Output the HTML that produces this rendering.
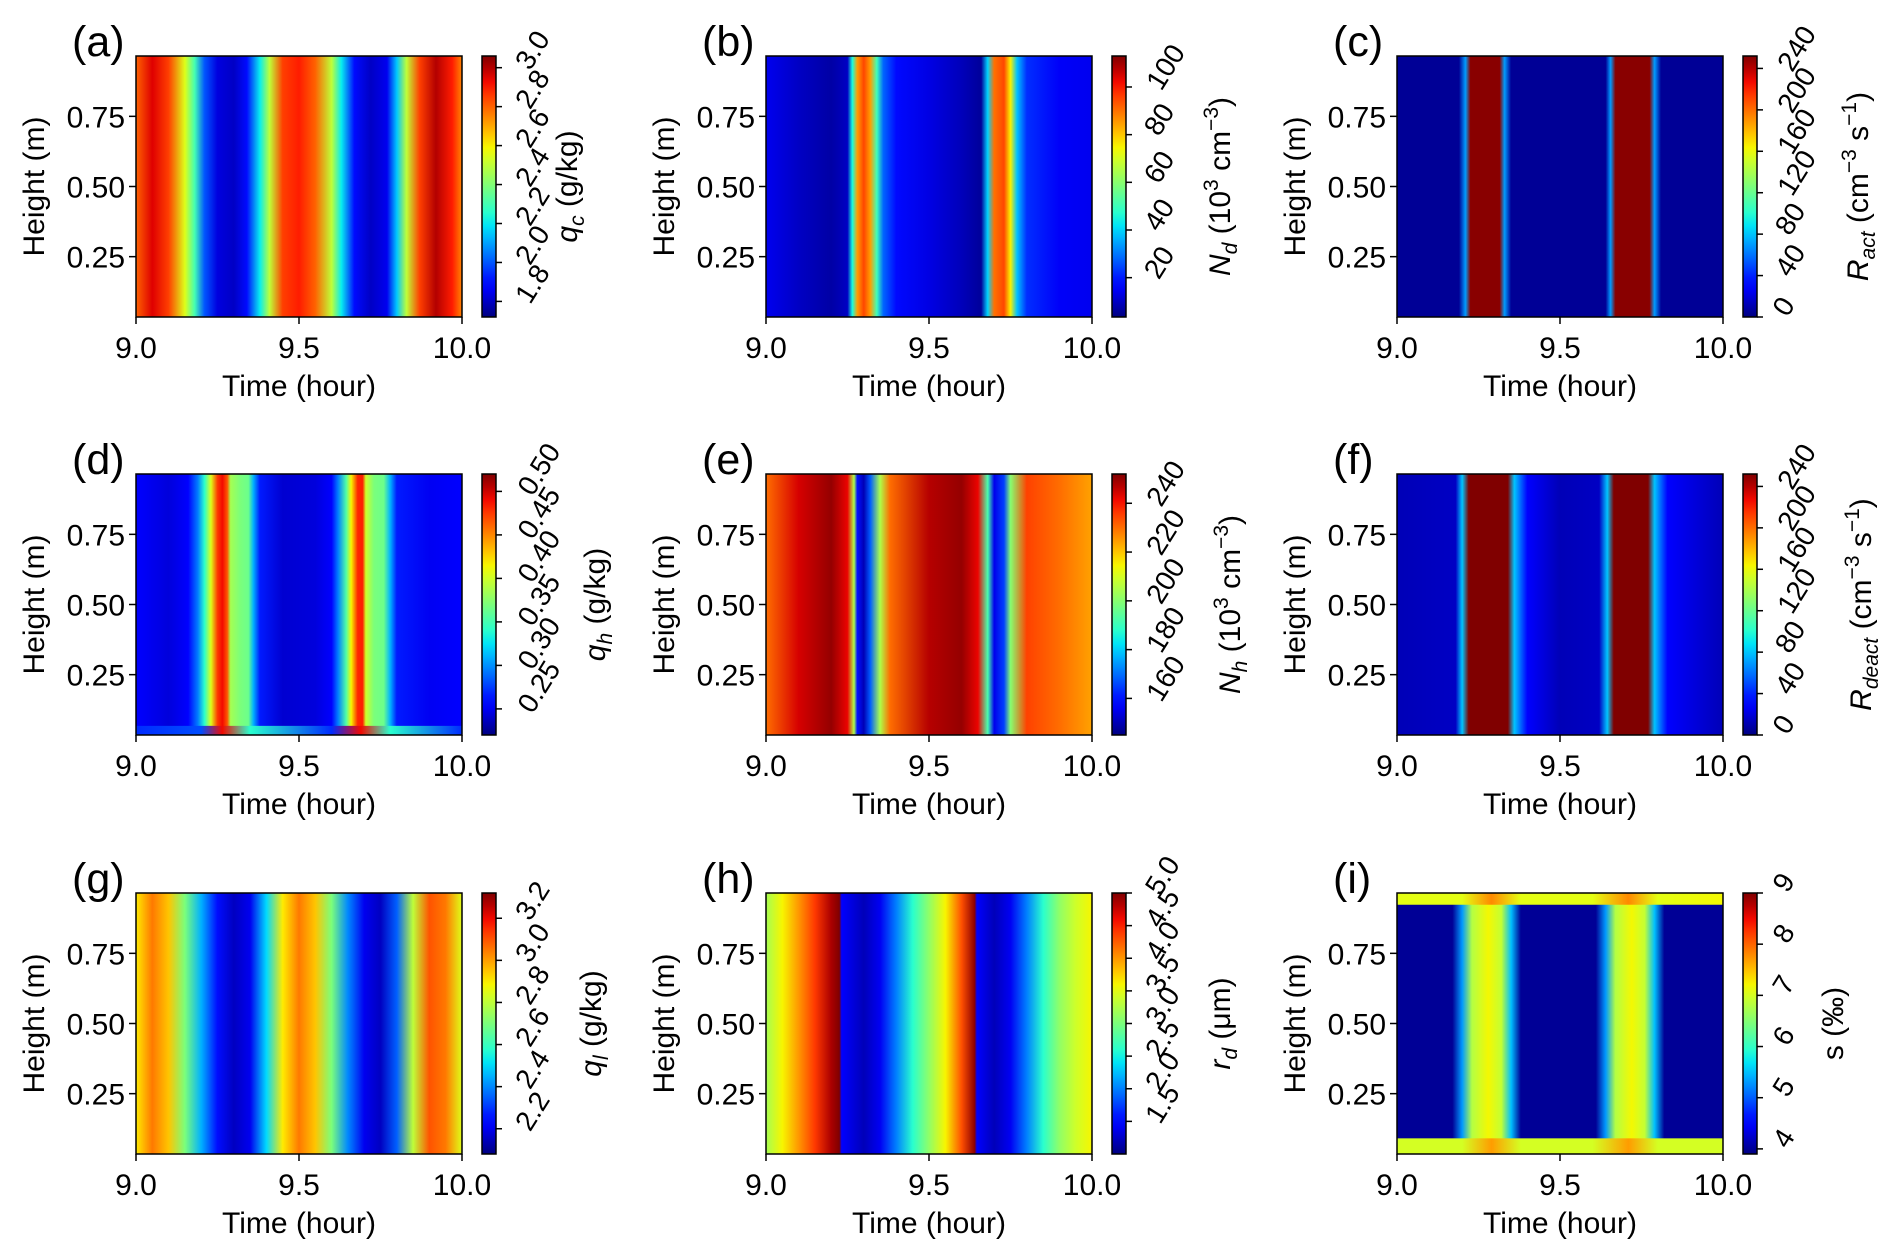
<!DOCTYPE html>
<html><head><meta charset="utf-8">
<style>
html,body{margin:0;padding:0;background:#fff;}
svg{display:block;font-family:"Liberation Sans",Arial,sans-serif;}
</style></head>
<body>
<svg id="fig" width="1892" height="1257" viewBox="0 0 1892 1257" xmlns="http://www.w3.org/2000/svg">
<defs id="defs"></defs>
</svg>
<script>
// ---- data (time hours, values in physical units) ----
const timesA = [9.0,9.05,9.1,9.15,9.18,9.21,9.25,9.3,9.34,9.38,9.41,9.45,9.5,9.55,9.6,9.63,9.67,9.72,9.77,9.8,9.83,9.87,9.92,9.97,10.0];
const valsA  = [2.8,2.95,2.85,2.55,2.3,2.0,1.83,1.8,1.9,2.2,2.5,2.85,2.9,2.8,2.5,2.2,1.9,1.8,1.85,2.15,2.5,2.85,3.0,2.9,2.75];
const timesB = [9.0,9.1,9.2,9.25,9.265,9.28,9.3,9.32,9.34,9.36,9.4,9.5,9.6,9.66,9.68,9.7,9.73,9.75,9.77,9.8,9.9,10.0];
const valsB  = [14,10,7,10,45,85,95,85,50,28,18,13,9,6,40,90,95,75,38,22,15,14];
const timesC = [9.0,9.19,9.21,9.225,9.315,9.33,9.35,9.64,9.655,9.67,9.775,9.79,9.81,10.0];
const valsC  = [5,5,70,250,250,70,5,5,70,250,250,70,5,5];
const timesD = [9.0,9.1,9.16,9.19,9.21,9.23,9.25,9.265,9.28,9.29,9.32,9.345,9.36,9.38,9.45,9.55,9.6,9.62,9.645,9.66,9.68,9.695,9.705,9.73,9.76,9.78,9.8,9.9,10.0];
const valsD  = [0.256,0.244,0.256,0.295,0.34,0.406,0.475,0.49,0.466,0.385,0.37,0.364,0.31,0.265,0.241,0.244,0.256,0.295,0.355,0.415,0.481,0.484,0.40,0.37,0.364,0.31,0.265,0.25,0.256];
const timesE = [9.0,9.1,9.2,9.25,9.27,9.28,9.3,9.32,9.35,9.38,9.5,9.6,9.65,9.68,9.7,9.73,9.75,9.8,9.9,10.0];
const valsE  = [230,244,250,242,205,160,150,168,205,230,247,250,242,192,155,165,200,235,230,224];
const timesF = [9.0,9.18,9.2,9.22,9.34,9.36,9.4,9.5,9.62,9.645,9.665,9.77,9.79,9.83,10.0];
const valsF  = [12,15,80,252,252,80,30,12,15,80,252,252,80,30,12];
const timesG = [9.0,9.05,9.1,9.15,9.2,9.25,9.3,9.35,9.4,9.45,9.5,9.55,9.6,9.65,9.7,9.75,9.8,9.85,9.9,9.95,10.0];
const valsG  = [2.9,3.05,2.95,2.7,2.45,2.25,2.15,2.2,2.5,2.9,3.05,2.95,2.7,2.4,2.2,2.15,2.35,2.8,3.1,3.05,2.85];
const timesH = [9.0,9.05,9.1,9.15,9.2,9.225,9.232,9.3,9.35,9.4,9.45,9.5,9.55,9.6,9.64,9.647,9.7,9.75,9.8,9.85,9.9,9.95,10.0];
const valsH  = [3.2,3.6,4.0,4.4,4.85,5.0,1.5,1.2,1.4,2.0,2.6,3.1,3.6,4.3,4.95,1.5,1.2,1.4,2.0,2.6,3.1,3.4,3.6];
const timesI = [9.0,9.17,9.2,9.23,9.28,9.32,9.35,9.38,9.61,9.64,9.67,9.72,9.76,9.79,9.82,10.0];
const valsI  = [4.0,4.0,5.3,6.8,7.2,6.9,5.5,4.0,4.0,5.3,6.8,7.2,6.9,5.5,4.0,4.0];
const topTimesI = [9.0,9.2,9.29,9.38,9.6,9.71,9.8,10.0];
const topValsI  = [7.1,7.1,7.8,7.1,7.1,7.8,7.1,7.2];
const botTimesI = [9.0,9.2,9.29,9.38,9.6,9.71,9.8,10.0];
const botValsI  = [7.0,7.0,7.7,7.0,7.0,7.7,7.0,7.0];
const botTimesD = [9.0,9.2,9.265,9.35,9.6,9.69,9.78,10.0];
const botValsD  = [0.27,0.28,0.49,0.34,0.27,0.49,0.34,0.27];

const ticksA=[1.8,2.0,2.2,2.4,2.6,2.8,3.0], ticksB=[20,40,60,80,100], ticksC=[0,40,80,120,160,200,240];
const ticksD=[0.25,0.30,0.35,0.40,0.45,0.50], ticksE=[160,180,200,220,240], ticksF=[0,40,80,120,160,200,240];
const ticksG=[2.2,2.4,2.6,2.8,3.0,3.2], ticksH=[1.5,2.0,2.5,3.0,3.5,4.0,4.5,5.0], ticksI=[4,5,6,7,8,9];
const xTicks=[9.0,9.5,10.0];
const yTicks=[0.25,0.50,0.75];

const NS="http://www.w3.org/2000/svg";
const svg=document.getElementById('fig');
const defs=document.getElementById('defs');
function el(t,a,p){const e=document.createElementNS(NS,t);for(const k in a)e.setAttribute(k,a[k]);(p||svg).appendChild(e);return e;}
function jet(x){x=Math.max(0,Math.min(1,x));
 let r=x<0.35?0:x<0.66?(x-0.35)/0.31:x<0.89?1:1-0.5*(x-0.89)/0.11;
 let g=x<0.125?0:x<0.375?(x-0.125)/0.25:x<0.64?1:x<0.91?1-(x-0.64)/0.27:0;
 let b=x<0.11?0.5+x/0.11*0.5:x<0.34?1:x<0.65?1-(x-0.34)/0.31:0;
 return `rgb(${Math.round(r*255)},${Math.round(g*255)},${Math.round(b*255)})`;}

const colL=[136,766,1397], rowT=[56,474,893], PW=326, PH=261;
const cbOff=346, CBW=14;
const T0=9.0,T1=10.0,Y0=0.035,Y1=0.965;
let gid=0;
function gradient(times,vals,lo,hi){
 const id='g'+(gid++);
 const g=el('linearGradient',{id:id,x1:'0',x2:'1',y1:'0',y2:'0'},defs);
 times.forEach((t,i)=>{el('stop',{offset:((t-T0)/(T1-T0)).toFixed(4),'stop-color':jet((vals[i]-lo)/(hi-lo))},g);});
 return id;}

const panels=[
 {L:'(a)',c:0,r:0,t:timesA,v:valsA,lo:1.72,hi:3.06,ticks:ticksA,fmt:1,lab:['q','c',' (g/kg)'],lo2:70,name:'qc'},
 {L:'(b)',c:1,r:0,t:timesB,v:valsB,lo:3.5,hi:113,ticks:ticksB,fmt:0,lab:['N','d',' (10','3',' cm','−3',')'],lo2:93,name:'nd'},
 {L:'(c)',c:2,r:0,t:timesC,v:valsC,lo:0,hi:252,ticks:ticksC,fmt:0,lab:['R','act',' (cm','−3',' s','−1',')'],lo2:100,name:'ract'},
 {L:'(d)',c:0,r:1,t:timesD,v:valsD,lo:0.22,hi:0.52,ticks:ticksD,fmt:2,lab:['q','h',' (g/kg)'],lo2:98,name:'qh',bt:botTimesD,bv:botValsD,bh:0.035},
 {L:'(e)',c:1,r:1,t:timesE,v:valsE,lo:145,hi:252,ticks:ticksE,fmt:0,lab:['N','h',' (10','3',' cm','−3',')'],lo2:103,name:'nh'},
 {L:'(f)',c:2,r:1,t:timesF,v:valsF,lo:0,hi:252,ticks:ticksF,fmt:0,lab:['R','deact',' (cm','−3',' s','−1',')'],lo2:103,name:'rdeact'},
 {L:'(g)',c:0,r:2,t:timesG,v:valsG,lo:2.08,hi:3.32,ticks:ticksG,fmt:1,lab:['q','l',' (g/kg)'],lo2:94,name:'ql'},
 {L:'(h)',c:1,r:2,t:timesH,v:valsH,lo:1.0,hi:5.0,ticks:ticksH,fmt:1,lab:['r','d',' (μm)'],lo2:93,name:'rd'},
 {L:'(i)',c:2,r:2,t:timesI,v:valsI,lo:3.9,hi:9.0,ticks:ticksI,fmt:0,lab:null,lo2:75,name:'s',tt:topTimesI,tv:topValsI,th:0.045,bt:botTimesI,bv:botValsI,bh:0.06}
];

panels.forEach(p=>{
 const x0=colL[p.c], y0=rowT[p.r];
 const xs=t=>x0+(t-T0)/(T1-T0)*PW;
 const ys=h=>y0+PH-(h-Y0)/(Y1-Y0)*PH;
 const grp=el('g',{});
 
 
 const hm=el('rect',{x:x0,y:y0,width:PW,height:PH,fill:`url(#${gradient(p.t,p.v,p.lo,p.hi)})`},grp);
 
 
 if(p.tt){const s=el('rect',{x:x0,y:y0,width:PW,height:p.th*PH,fill:`url(#${gradient(p.tt,p.tv,p.lo,p.hi)})`},grp);
  }
 if(p.bt){const s=el('rect',{x:x0,y:y0+PH-p.bh*PH,width:PW,height:p.bh*PH,fill:`url(#${gradient(p.bt,p.bv,p.lo,p.hi)})`},grp);
  }
 el('rect',{x:x0,y:y0,width:PW,height:PH,fill:'none',stroke:'#000','stroke-width':1.5},grp);
 xTicks.forEach(t=>{
  el('line',{x1:xs(t),x2:xs(t),y1:y0+PH,y2:y0+PH+7,stroke:'#000','stroke-width':1.5},grp);
  const tx=el('text',{x:xs(t),y:y0+PH+41,'font-size':30,'text-anchor':'middle'},grp);tx.textContent=t.toFixed(1);
  
 });
 yTicks.forEach(h=>{
  el('line',{x1:x0,x2:x0-7,y1:ys(h),y2:ys(h),stroke:'#000','stroke-width':1.5},grp);
  const tx=el('text',{x:x0-11,y:ys(h)+11,'font-size':30,'text-anchor':'end'},grp);tx.textContent=h.toFixed(2);
  
 });
 const xl=el('text',{x:x0+PW/2,y:y0+PH+79,'font-size':30,'text-anchor':'middle'},grp);xl.textContent='Time (hour)';
 
 const yl=el('text',{x:0,y:0,'font-size':30,'text-anchor':'middle',transform:`translate(${x0-92},${y0+PH/2}) rotate(-90)`},grp);yl.textContent='Height (m)';
 
 const lt=el('text',{x:x0-64,y:y0,'font-size':43},grp);lt.textContent=p.L;
 
 // colorbar
 const cx=x0+cbOff;
 const cg={id:'c'+(gid++),x1:'0',x2:'0',y1:'1',y2:'0'};
 const g=el('linearGradient',cg,defs);
 for(let i=0;i<=20;i++)el('stop',{offset:i/20,'stop-color':jet(i/20)},g);
 const cb=el('rect',{x:cx,y:y0,width:CBW,height:PH,fill:`url(#${cg.id})`,stroke:'#000','stroke-width':1.5},grp);
 
 const cys=v=>y0+PH-(v-p.lo)/(p.hi-p.lo)*PH;
 p.ticks.forEach(v=>{
  const y=cys(v);
  el('line',{x1:cx+CBW,x2:cx+CBW+6,y1:y,y2:y,stroke:'#000','stroke-width':1.5},grp);
  const s=v.toFixed(p.fmt);
  const w=s.replace('.','').length*0.556*28+(s.includes('.')?0.278*28:0);
  const tx=el('text',{x:0,y:0,'font-size':28,'text-anchor':'middle','dominant-baseline':'central',
   transform:`translate(${cx+CBW+20+w*0.42},${y-6-w*0.3}) rotate(-58)`},grp);
  tx.textContent=s;
  
 });
 const lab=el('text',{x:0,y:0,'font-size':30,'text-anchor':'middle',transform:`translate(${cx+CBW+p.lo2+11},${y0+PH/2}) rotate(-90)`},grp);
 
 if(!p.lab){lab.textContent='s (‰)';}
 else{
  const parts=p.lab;
  const a=el('tspan',{'font-style':'italic'},lab);a.textContent=parts[0];
  const b=el('tspan',{'font-style':'italic','font-size':21,dy:7},lab);b.textContent=parts[1];
  const c=el('tspan',{dy:-7},lab);c.textContent=parts[2];
  for(let i=3;i<parts.length;i+=2){
   const sup=el('tspan',{'font-size':21,dy:-12},lab);sup.textContent=parts[i];
   const nx=el('tspan',{dy:12},lab);nx.textContent=parts[i+1];
  }
 }
});
</script>
</body></html>
